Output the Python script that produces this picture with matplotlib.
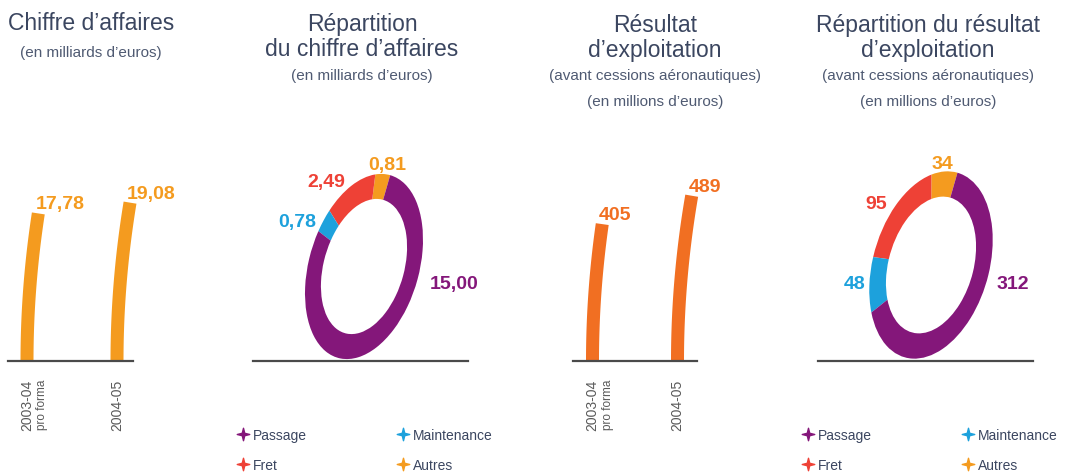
import numpy as np
import matplotlib
matplotlib.use('Agg')
import matplotlib.pyplot as plt
from matplotlib.transforms import Affine2D
from matplotlib.path import Path

plt.rcParams['font.family'] = ['Liberation Sans', 'DejaVu Sans']

# ---------------- data ----------------
years = ['2003-04', '2004-05']
year_notes = ['pro forma', '']

ca_values = [17.78, 19.08]            # chiffre d'affaires (milliards d'euros)
ca_labels = ['17,78', '19,08']
re_values = [405, 489]                # résultat d'exploitation (millions d'euros)
re_labels = ['405', '489']

segments = ['Passage', 'Fret', 'Maintenance', 'Autres']
ca_split = [15.00, 2.49, 0.78, 0.81]
ca_split_labels = ['15,00', '2,49', '0,78', '0,81']
re_split = [312, 95, 48, 34]
re_split_labels = ['312', '95', '48', '34']

# ---------------- style ----------------
W, H = 1065, 477
TITLE_C = '#3b4660'
SUB_C = '#4f5a72'
TICK_C = '#5a5a5a'
BASE_C = '#4a4a4a'
ORANGE1 = '#f49b1f'
ORANGE2 = '#f16f22'
SEG_COLORS = ['#84177a', '#ee4136', '#1da1dc', '#f49b1f']

fig = plt.figure(figsize=(W / 100, H / 100), dpi=100)


def px_axes(x0, y_top, x1, y_bot, **kw):
    return fig.add_axes([x0 / W, 1 - y_bot / H, (x1 - x0) / W, (y_bot - y_top) / H], **kw)


# overlay for titles and legends (pixel coordinates)
ov = px_axes(0, 0, W, H)
ov.set_xlim(0, W)
ov.set_ylim(H, 0)
ov.axis('off')

titles = [
    (91, [('Chiffre d\u2019affaires', 30, 16.5, TITLE_C), ('(en milliards d\u2019euros)', 57, 11, SUB_C)]),
    (362, [('R\u00e9partition', 31, 16.5, TITLE_C), ('du chiffre d\u2019affaires', 56, 16.5, TITLE_C),
           ('(en milliards d\u2019euros)', 80, 11, SUB_C)]),
    (655, [('R\u00e9sultat', 32, 16.5, TITLE_C), ('d\u2019exploitation', 57, 16.5, TITLE_C),
           ('(avant cessions a\u00e9ronautiques)', 80, 11, SUB_C), ('(en millions d\u2019euros)', 106, 11, SUB_C)]),
    (928, [('R\u00e9partition du r\u00e9sultat', 32, 16.5, TITLE_C), ('d\u2019exploitation', 57, 16.5, TITLE_C),
           ('(avant cessions a\u00e9ronautiques)', 80, 11, SUB_C), ('(en millions d\u2019euros)', 106, 11, SUB_C)]),
]
for cx, lines in titles:
    for txt, yb, fs, col in lines:
        ov.text(cx, yb, txt, ha='center', va='baseline', fontsize=fs, color=col)

# ---------------- curved bar panels ----------------
BASE_Y = 362
CURVE = 0.00052   # lean of the bars (px offset = CURVE * height_px^2)
BAR_W = 13        # px


def bar_panel(x0, x1, first_center, px_per_unit, ymax, height_px, values, labels, color):
    ax = px_axes(x0, BASE_Y - height_px, x1, BASE_Y)
    ax.set_xlim((x0 - first_center) / px_per_unit, (x1 - first_center) / px_per_unit)
    ax.set_ylim(0, ymax)
    for s in ax.spines.values():
        s.set_visible(False)
    ax.patch.set_visible(False)
    for i, v in enumerate(values):
        y = np.linspace(0, v, 80)
        y_px = y / ymax * height_px
        x = i + CURVE * y_px ** 2 / px_per_unit
        ax.plot(x, y, color=color, lw=BAR_W * 0.72, solid_capstyle='butt', clip_on=False)
        ax.annotate(labels[i], xy=(x[-1], v), xytext=(-3, 5), textcoords='offset pixels',
                    ha='left', va='baseline', fontsize=14, fontweight='bold', color=color,
                    annotation_clip=False)
    ax.axhline(0, color=BASE_C, lw=1.6, clip_on=False)
    ax.set_yticks([])
    ax.set_xticks(range(len(years)), years, rotation=90, fontsize=10, color=TICK_C)
    ax.tick_params(axis='x', length=0, pad=13)
    for i, note in enumerate(year_notes):
        if note:
            ax.annotate(note, xy=(i, 0), xytext=(15, -18), textcoords='offset pixels',
                        rotation=90, ha='center', va='top', fontsize=8.5, color=TICK_C,
                        annotation_clip=False)
    return ax


bar_panel(8, 133, 27, 90, 20, 166, ca_values, ca_labels, ORANGE1)
bar_panel(573, 697, 592.5, 85, 500, 169, re_values, re_labels, ORANGE2)

# ---------------- tilted donut panels ----------------
RING = 0.27
TILT = 16
DRAW_ORDER = [3, 1, 2, 0]   # Autres, Fret, Maintenance, Passage counter-clockwise from top
LABEL_PHI = {'Passage': 0.0}


def donut(cx, cy, a, b, values, labels, offsets, base_x0, base_x1):
    R = 140
    ax = px_axes(cx - R, cy - R, cx + R, cy + R)
    wedges, _ = ax.pie([values[i] for i in DRAW_ORDER],
                       colors=[SEG_COLORS[i] for i in DRAW_ORDER],
                       startangle=90, counterclock=True, radius=1,
                       wedgeprops=dict(width=RING, linewidth=0))
    T = Affine2D().scale(b, a).rotate_deg(-TILT)
    for w in wedges:
        w.set_transform(T + ax.transData)
        w.set_clip_on(False)
    ax.set_xlim(-R, R)
    ax.set_ylim(-R, R)
    ax.set_aspect('equal')
    ax.axis('off')
    for w, i in zip(wedges, DRAW_ORDER):
        phi = np.radians(LABEL_PHI.get(segments[i], (w.theta1 + w.theta2) / 2))
        p = T.transform((np.cos(phi), np.sin(phi)))
        dx, dy, ha = offsets[i]
        ax.annotate(labels[i], xy=p, xytext=(dx, dy), textcoords='offset pixels',
                    ha=ha, va='baseline', fontsize=14, fontweight='bold',
                    color=SEG_COLORS[i], annotation_clip=False)
    ax.plot([base_x0 - cx, base_x1 - cx], [cy - BASE_Y, cy - BASE_Y], color=BASE_C, lw=1.6,
            clip_on=False)
    return ax


donut(364, 267.5, 95, 55, ca_split, ca_split_labels,
      [(13, -6, 'left'), (-6, 0, 'right'), (-7, -6, 'right'), (4, 5, 'center')], 253, 468)
donut(931, 266, 96, 58, re_split, re_split_labels,
      [(10, -7, 'left'), (-9, -3, 'right'), (-4, -2, 'right'), (-2, 3, 'center')], 818, 1033)

# ---------------- legends ----------------
star = []
for k in range(8):
    ang = np.radians(90 + 45 * k)
    r = 1.0 if k % 2 == 0 else 0.28
    star.append((r * np.cos(ang), r * np.sin(ang)))
star.append(star[0])
STAR = Path(star, [Path.MOVETO] + [Path.LINETO] * 7 + [Path.CLOSEPOLY])

for lx in (243, 808):
    for i, name in enumerate(segments):
        col, row = i // 2, i % 2
        mx = lx + col * 160
        my = 435 + row * 30
        ov.plot([mx], [my], marker=STAR, markersize=9, color=SEG_COLORS[i], linestyle='none')
        ov.text(mx + 10, my + 5, name, ha='left', va='baseline', fontsize=10, color=TITLE_C)

fig.savefig('out.png', dpi=100)
